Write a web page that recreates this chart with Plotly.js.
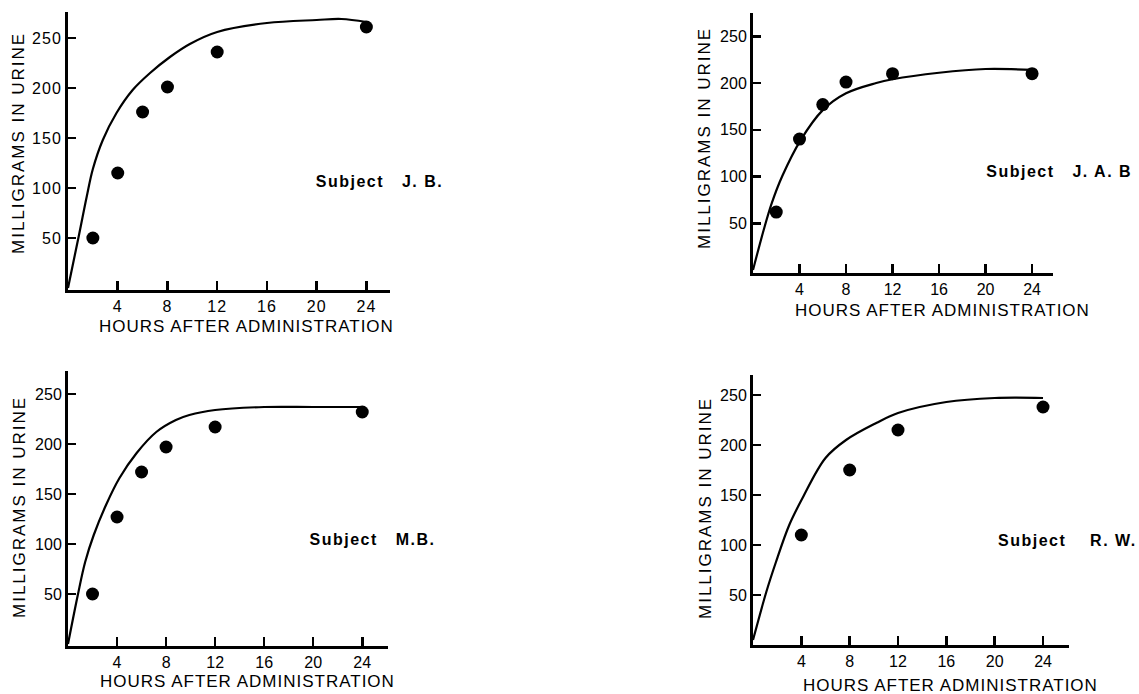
<!DOCTYPE html>
<html>
<head>
<meta charset="utf-8">
<script src="https://cdn.plot.ly/plotly-3.0.1.min.js"></script>
<style>
html,body{margin:0;padding:0;background:#fff;}
#chart{width:1139px;height:694px;}
</style>
</head>
<body>
<div id="chart"></div>
<script>
// ---- data ----
const xTickVals = [4, 8, 12, 16, 20, 24];
const xTickText = ["4", "8", "12", "16", "20", "24"];
const yTickVals = [50, 100, 150, 200, 250];
const yTickText = ["50", "100", "150", "200", "250"];

const subjects = ["J. B.", "J. A. B", "M.B.", "R. W."];

// measured points (hours, mg in urine)
const jbHours = [2, 4, 6, 8, 12, 24];
const jbMg = [50, 115, 176, 201, 236, 261];
const jabHours = [2, 4, 6, 8, 12, 24];
const jabMg = [62, 140, 177, 201, 210, 210];
const mbHours = [2, 4, 6, 8, 12, 24];
const mbMg = [50, 127, 172, 197, 217, 232];
const rwHours = [4, 8, 12, 24];
const rwMg = [110, 175, 215, 238];

// fitted curves
const jbCurveH = [0, 0.9, 1.5, 2, 2.8, 3.9, 5.2, 6.6, 8.2, 9.8, 12, 16, 20, 22, 24];
const jbCurveV = [0, 54, 91, 119, 148, 175, 198, 215, 231, 244, 256, 265, 268, 269, 266];
const jabCurveH = [0, 0.9, 1.6, 2.5, 4.1, 6, 8, 10.6, 12, 16, 20, 24];
const jabCurveV = [0, 42, 71, 100, 139, 171, 189, 200, 204, 211, 215, 214];
const mbCurveH = [0, 0.8, 1.4, 2.1, 3.1, 4.2, 5.6, 7.2, 8.8, 9.9, 12, 16, 20, 24];
const mbCurveV = [0, 49, 82, 109, 139, 166, 191, 212, 224, 229, 234, 237, 237, 237];
const rwCurveH = [0, 1.1, 1.9, 3, 4.1, 6, 7.7, 10.2, 12, 16, 20, 24];
const rwCurveV = [5, 53, 83, 120, 147, 187, 205, 222, 232, 243, 247, 247];

const xTitle = "HOURS AFTER ADMINISTRATION";
const yTitle = "MILLIGRAMS IN URINE";

// ---- layout helpers ----
const W = 1139, H = 694;
const FONT = "Liberation Sans, Arial, Helvetica, sans-serif";
const px = v => v / W;
const py = v => 1 - v / H;

function curve(xs, ys, n) {
  return {x: xs, y: ys, xaxis: 'x' + n, yaxis: 'y' + n, type: 'scatter', mode: 'lines',
    line: {color: '#000', width: 2.2, shape: 'spline', smoothing: 1}, hoverinfo: 'skip', showlegend: false};
}
function dots(xs, ys, n) {
  return {x: xs, y: ys, xaxis: 'x' + n, yaxis: 'y' + n, type: 'scatter', mode: 'markers',
    marker: {color: '#000', size: 13}, showlegend: false};
}

const data = [
  curve(jbCurveH, jbCurveV, ''), dots(jbHours, jbMg, ''),
  curve(jabCurveH, jabCurveV, 2), dots(jabHours, jabMg, 2),
  curve(mbCurveH, mbCurveV, 3), dots(mbHours, mbMg, 3),
  curve(rwCurveH, rwCurveV, 4), dots(rwHours, rwMg, 4)
];

function xax(d0, d1, r1, anchor) {
  return {domain: [px(d0), px(d1)], range: [0, r1], anchor: anchor,
    showline: true, linecolor: '#000', linewidth: 3, showgrid: false, zeroline: false,
    ticks: 'inside', ticklen: 9, tickwidth: 2.5, tickcolor: '#000',
    tickvals: xTickVals, ticktext: xTickText,
    tickfont: {family: FONT, size: 16, color: '#000'}, fixedrange: true};
}
function yax(top, bot, r0, r1, anchor) {
  return {domain: [py(bot), py(top)], range: [r0, r1], anchor: anchor,
    showline: true, linecolor: '#000', linewidth: 3, showgrid: false, zeroline: false,
    ticks: 'inside', ticklen: 8, tickwidth: 2.5, tickcolor: '#000',
    tickvals: yTickVals, ticktext: yTickText,
    tickfont: {family: FONT, size: 16, color: '#000'}, fixedrange: true};
}

function ann(text, x, y, opts) {
  return Object.assign({text: text, x: px(x), y: py(y), xref: 'paper', yref: 'paper',
    showarrow: false, xanchor: 'center', yanchor: 'middle',
    font: {family: FONT, size: 17, color: '#000'}}, opts || {});
}
const NB = '\u00A0';
const subjFont = {family: "Liberation Sans Narrow, Liberation Sans, Arial, sans-serif", size: 16, color: '#000', weight: 'bold'};

const annotations = [
  // x titles
  ann(xTitle, 246, 326), ann(xTitle, 942, 310), ann(xTitle, 247, 681), ann(xTitle, 950, 685),
  // y titles
  ann(yTitle, 19, 143, {textangle: -90}), ann(yTitle, 705, 138, {textangle: -90}),
  ann(yTitle, 19, 507, {textangle: -90}), ann(yTitle, 705, 508, {textangle: -90}),
  // subject labels
  ann('<b>Subject' + NB + NB + NB + subjects[0] + '</b>', 379, 181, {font: subjFont}),
  ann('<b>Subject' + NB + NB + NB + subjects[1] + '</b>', 1059, 171, {font: subjFont}),
  ann('<b>Subject' + NB + NB + NB + subjects[2] + '</b>', 372, 539, {font: subjFont}),
  ann('<b>Subject' + NB + NB + NB + NB + subjects[3] + '</b>', 1067, 540, {font: subjFont})
];

const layout = {
  width: W, height: H,
  margin: {l: 0, r: 0, t: 0, b: 0},
  paper_bgcolor: '#fff', plot_bgcolor: 'rgba(0,0,0,0)',
  showlegend: false,
  xaxis: xax(68, 390, 25.9, 'y'),
  yaxis: yax(12, 290, -2, 276, 'x'),
  xaxis2: xax(753, 1053, 25.8, 'y2'),
  yaxis2: yax(13, 273, -3.2, 274.9, 'x2'),
  xaxis3: xax(68, 388, 26.1, 'y3'),
  yaxis3: yax(371, 646, -2, 273, 'x3'),
  xaxis4: xax(753, 1069, 26.15, 'y4'),
  yaxis4: yax(375, 645, 0, 270, 'x4'),
  annotations: annotations
};

Plotly.newPlot('chart', data, layout, {staticPlot: true, displayModeBar: false}).then(function () {
  document.querySelectorAll('.annotation-text').forEach(function (el, i) {
    el.style.letterSpacing = (i >= 4 && i < 8) ? '2px' : (i >= 8 ? '1.5px' : '1px');
  });
  document.querySelectorAll('.xtick text, .ytick text').forEach(function (el) {
    el.style.letterSpacing = '1px';
  });
});
</script>
</body>
</html>
